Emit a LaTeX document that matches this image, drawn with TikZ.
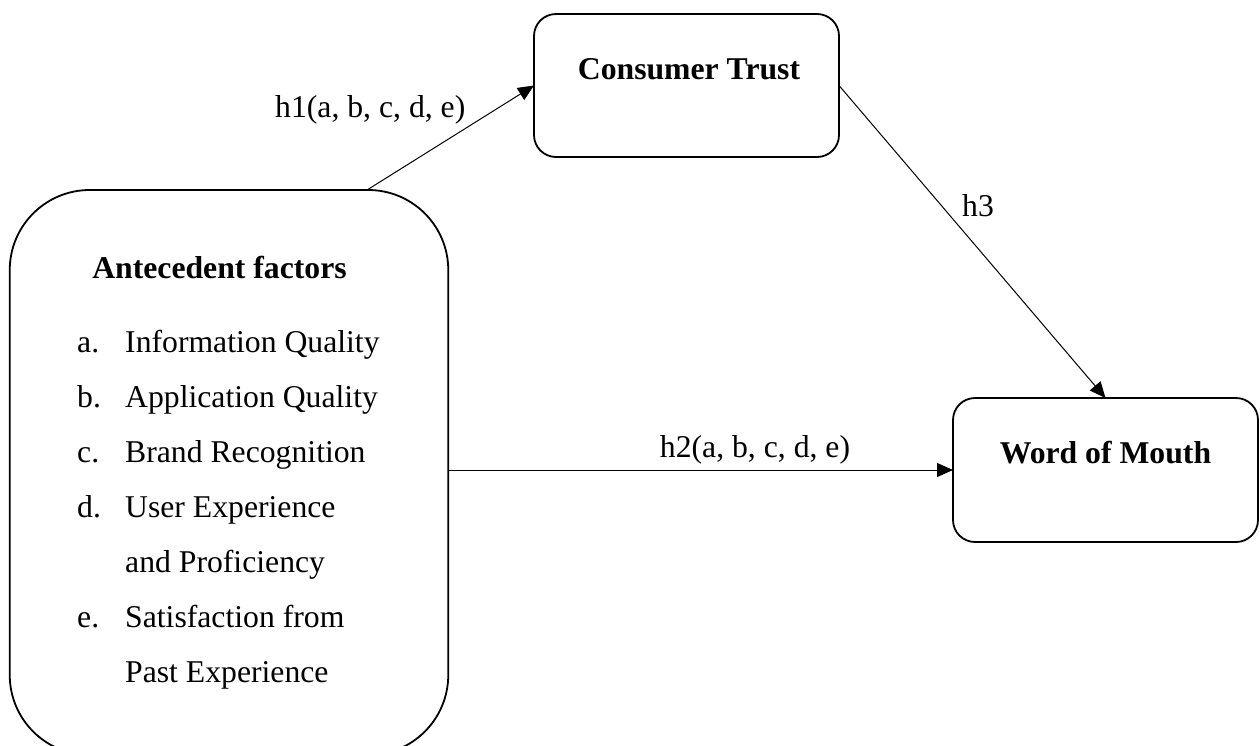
\documentclass[tikz,border=0pt]{standalone}
\usepackage{fontspec}
\setmainfont{Liberation Serif}
\usetikzlibrary{arrows.meta,calc}

\begin{document}
\begin{tikzpicture}[x=1pt,y=-1pt,
  box/.style={draw, line width=1.8pt, rounded corners=22pt, inner sep=0pt, outer sep=0pt},
  txt/.style={inner sep=0pt, font=\fontsize{31.7}{38}\selectfont},
  ttl/.style={inner sep=0pt, font=\fontsize{31.7}{38}\selectfont\bfseries, anchor=base},
  item/.style={txt, anchor=base west},
  link/.style={line width=1pt, -{Triangle[length=16pt,width=14pt]}},
]
\useasboundingbox (0,0) rectangle (1260,745);

% boxes
\node[box, minimum width=305pt, minimum height=143pt] (ct) at (686.5,85.5) {};
\node[box, minimum width=305pt, minimum height=144pt] (wom) at (1105.5,470) {};
\node[box, rounded corners=80pt, minimum width=438.5pt, minimum height=565pt] (ante) at (229,472.5) {};

% box titles
\node[ttl] (ctt) at ($(ct.north)+(2.5,65)$) {Consumer Trust};
\node[ttl] (womt) at ($(wom.north)+(0,65)$) {Word of Mouth};
\node[ttl] (antt) at (219.5,278) {Antecedent factors};

% list of antecedent factors
\node[item] (ma) at (77,352) {a.};
\node[item] (ia) at (125,352) {Information Quality};
\node[item] (mb) at (77,407) {b.};
\node[item] (ib) at (125,407) {Application Quality};
\node[item] (mc) at (77,462) {c.};
\node[item] (ic) at (125,462) {Brand Recognition};
\node[item] (md) at (77,517) {d.};
\node[item] (id) at (125,517) {User Experience};
\node[item] (id2) at (125,572) {and Proficiency};
\node[item] (me) at (77,627) {e.};
\node[item] (ie) at (125,627) {Satisfaction from};
\node[item] (ie2) at (125,682) {Past Experience};

% hypotheses
\draw[link] ($(ante.north)+(138,0)$) -- (ct.west);
\draw[link] (ct.east) -- (wom.north);
\draw[link] (ante.east |- wom.west) -- (wom.west);

\node[item] (h1) at (275,117) {h1(a, b, c, d, e)};
\node[txt, anchor=base] (h2) at (755,457) {h2(a, b, c, d, e)};
\node[item] (h3) at (962,216.5) {h3};
\end{tikzpicture}
\end{document}
